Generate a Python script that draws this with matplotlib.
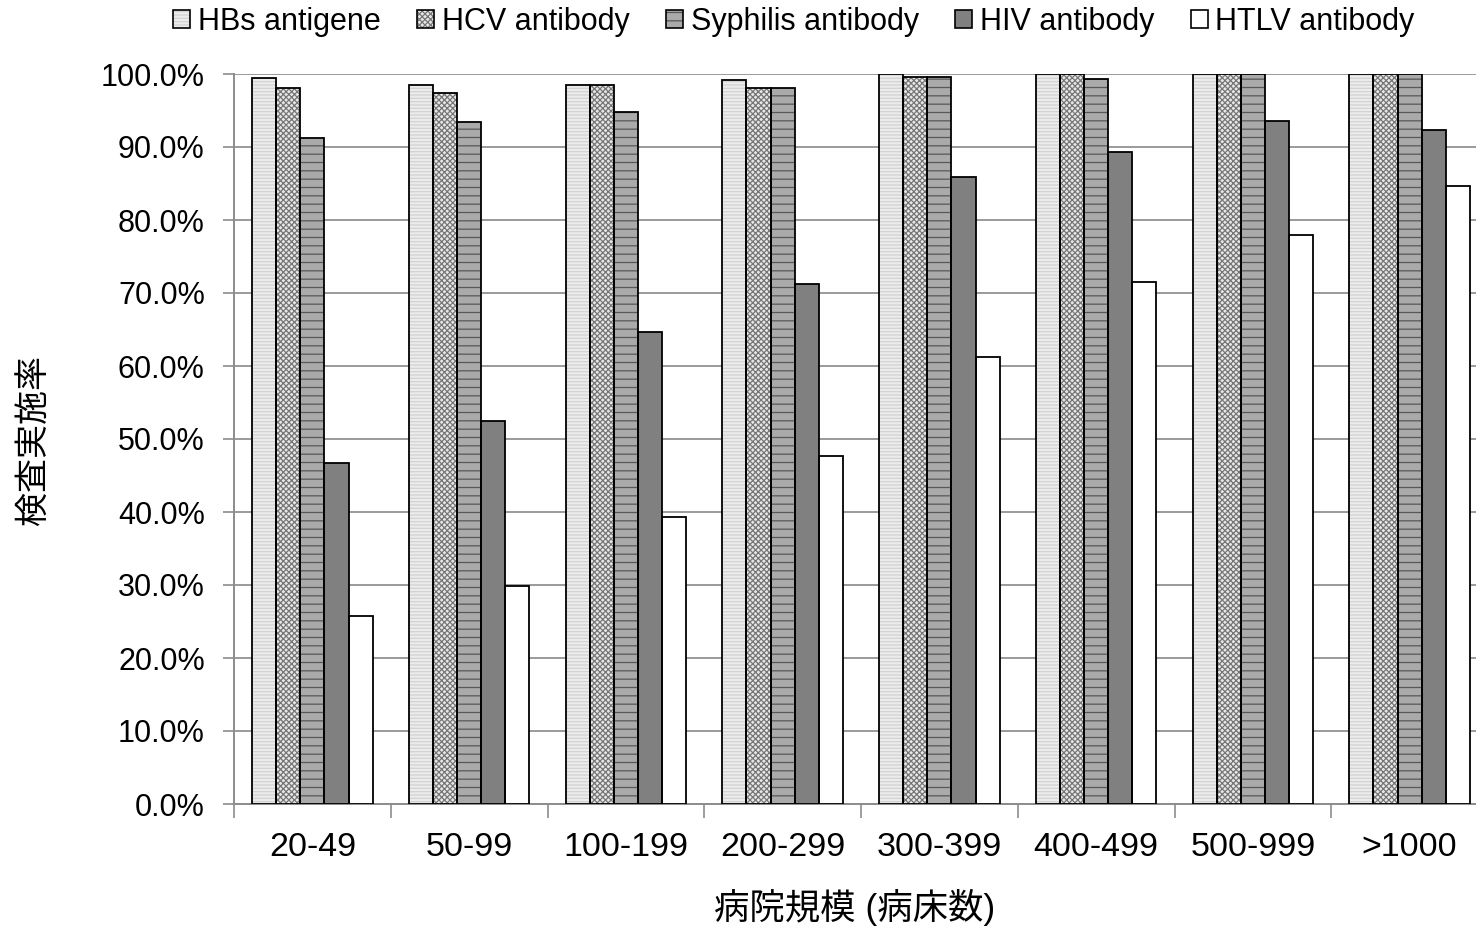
import matplotlib
matplotlib.use("Agg")
import matplotlib.pyplot as plt
import numpy as np
from matplotlib.patches import Patch
from matplotlib.legend_handler import HandlerTuple

plt.rcParams['font.family'] = ['Liberation Sans', 'Noto Sans CJK JP', 'DejaVu Sans']
plt.rcParams['hatch.linewidth'] = 0.9

categories = ["20-49", "50-99", "100-199", "200-299", "300-399", "400-499", "500-999", ">1000"]
series_names = ["HBs antigene", "HCV antibody", "Syphilis antibody", "HIV antibody", "HTLV antibody"]

hbs = [99.4, 98.5, 98.5, 99.2, 100.0, 100.0, 100.0, 100.0]
hcv = [98.1, 97.4, 98.5, 98.1, 99.6, 100.0, 100.0, 100.0]
syphilis = [91.3, 93.4, 94.8, 98.1, 99.6, 99.3, 100.0, 100.0]
hiv = [46.7, 52.4, 64.6, 71.3, 85.9, 89.3, 93.6, 92.3]
htlv = [25.7, 29.9, 39.3, 47.7, 61.2, 71.5, 78.0, 84.7]

y_ticks = [0, 10, 20, 30, 40, 50, 60, 70, 80, 90, 100]
y_tick_labels = ["0.0%", "10.0%", "20.0%", "30.0%", "40.0%", "50.0%",
                 "60.0%", "70.0%", "80.0%", "90.0%", "100.0%"]

values = [hbs, hcv, syphilis, hiv, htlv]
# (face colour, hatch, hatch colour) for each series
styles = [
    ("#ececec", "-----", "#d2d2d2"),
    ("#e8e8e8", "xxxxxx", "#767676"),
    ("#aaaaaa", "--", "#585858"),
    ("#808080", "", "#808080"),
    ("#ffffff", "", "#ffffff"),
]

fig = plt.figure(figsize=(14.76, 9.26), dpi=100)
ax = fig.add_axes([234 / 1476, 1 - 804 / 926, (1488 - 234) / 1476, (804 - 74) / 926])

x = np.arange(len(categories))
bw = 0.154
handles = []
for i, (vals, (fc, hatch, hc)) in enumerate(zip(values, styles)):
    pos = x + (i - 2) * bw
    ax.bar(pos, vals, width=bw, color=fc, hatch=hatch, edgecolor=hc,
           linewidth=0, zorder=3)
    ax.bar(pos, vals, width=bw, fill=False, edgecolor="black",
           linewidth=1.3, zorder=4)
    h1 = Patch(facecolor=fc, hatch=hatch, edgecolor=hc, linewidth=0)
    h2 = Patch(fill=False, edgecolor="black", linewidth=1.2)
    handles.append((h1, h2))

ax.set_xlim(-0.5, len(categories) - 0.5)
ax.set_ylim(0, 100)
ax.set_yticks(y_ticks)
ax.set_yticklabels(y_tick_labels, fontsize=22)
ax.yaxis.grid(True, color="#9a9a9a", linewidth=1.4, zorder=0)
ax.set_axisbelow(True)

ax.set_xticks(x)
ax.set_xticklabels(categories, fontsize=24.5)
ax.tick_params(axis="x", which="major", length=0, pad=20)
ax.set_xticks(np.arange(-0.5, len(categories), 1.0), minor=True)
ax.tick_params(axis="x", which="minor", length=10, width=1.2, color="#8c8c8c")
ax.tick_params(axis="y", length=8, width=1.2, color="#8c8c8c", pad=13)

for side in ("top", "right"):
    ax.spines[side].set_visible(False)
for side in ("left", "bottom"):
    ax.spines[side].set_color("#8c8c8c")
    ax.spines[side].set_linewidth(1.4)

fig.text(35 / 1476, 1 - 440 / 926, "検査実施率", rotation=90, fontsize=24.5,
         ha="center", va="center")
fig.text(855 / 1476, 1 - 908 / 926, "病院規模 (病床数)", fontsize=25.5,
         ha="center", va="center")

fig.legend(handles, series_names, loc="center", bbox_to_anchor=(794 / 1476, 1 - 22 / 926),
           ncol=5, frameon=False, fontsize=22, handler_map={tuple: HandlerTuple(ndivide=1)},
           handlelength=0.55, handleheight=0.55, handletextpad=0.25, columnspacing=1.2)

fig.savefig("out.png", dpi=100)
